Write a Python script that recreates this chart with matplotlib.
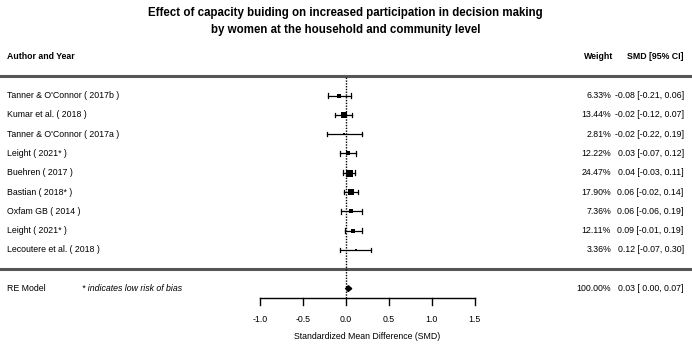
import matplotlib
matplotlib.use("Agg")
import matplotlib.pyplot as plt
from matplotlib.patches import Polygon
import numpy as np

studies = ["Tanner & O'Connor ( 2017b )", "Kumar et al. ( 2018 )", "Tanner & O'Connor ( 2017a )",
           "Leight ( 2021* )", "Buehren ( 2017 )", "Bastian ( 2018* )", "Oxfam GB ( 2014 )",
           "Leight ( 2021* )", "Lecoutere et al. ( 2018 )"]
smd = [-0.08, -0.02, -0.02, 0.03, 0.04, 0.06, 0.06, 0.09, 0.12]
ci_low = [-0.21, -0.12, -0.22, -0.07, -0.03, -0.02, -0.06, -0.01, -0.07]
ci_high = [0.06, 0.07, 0.19, 0.12, 0.11, 0.14, 0.19, 0.19, 0.30]
weights = [6.33, 13.44, 2.81, 12.22, 24.47, 17.90, 7.36, 12.11, 3.36]
re_est, re_low, re_high = 0.03, 0.00, 0.07
xticks = [-1.0, -0.5, 0.0, 0.5, 1.0, 1.5]

plt.rcParams['font.family'] = ['Liberation Sans', 'DejaVu Sans']

fig = plt.figure(figsize=(6.92, 3.44), dpi=100)
ax = fig.add_axes([0, 0, 1, 1])
ax.set_xlim(-4.020, 4.027)
ax.set_ylim(-3.87, 13.95)
ax.axis('off')

k = len(studies)
rows = np.arange(k, 0, -1)

fs = 6.3
xl, xw, xs = -3.94, 3.085, 3.93

# title
ax.text(0.0, 13.3, "Effect of capacity buiding on increased participation in decision making",
        ha='center', va='center', fontsize=8.3, fontweight='bold')
ax.text(0.0, 12.42, "by women at the household and community level",
        ha='center', va='center', fontsize=8.3, fontweight='bold')

# headers
ax.text(xl, 11, "Author and Year", ha='left', va='center', fontsize=fs, fontweight='bold')
ax.text(xw + 0.03, 11, "Weight", ha='right', va='center', fontsize=fs, fontweight='bold')
ax.text(xs, 11, "SMD [95% CI]", ha='right', va='center', fontsize=fs, fontweight='bold')

# separators
ax.axhline(10, color='#555555', lw=2.2)
ax.axhline(0, color='#555555', lw=2.2)

# reference line
ax.plot([0, 0], [-1.5, 10], color='black', lw=1, ls=(0, (1, 1)))

for y, name, e, lo, hi, w in zip(rows, studies, smd, ci_low, ci_high, weights):
    ax.plot([lo, hi], [y, y], color='black', lw=0.9)
    ax.plot([lo, lo], [y - 0.12, y + 0.12], color='black', lw=0.9)
    ax.plot([hi, hi], [y - 0.12, y + 0.12], color='black', lw=0.9)
    size_px = 7.0 * np.sqrt(w / max(weights))
    ax.plot([e], [y], marker='s', color='black', ms=size_px * 0.72, mew=0)
    ax.text(xl, y, name, ha='left', va='center', fontsize=fs)
    ax.text(xw, y, f"{w:.2f}%", ha='right', va='center', fontsize=fs)
    ax.text(xs, y, f"{e:.2f} [{lo:.2f}, {hi:.2f}]", ha='right', va='center', fontsize=fs)

# RE model
ax.add_patch(Polygon([[re_low, -1], [re_est, -0.85], [re_high, -1], [re_est, -1.15]],
                     closed=True, color='black'))
ax.text(xl, -1, "RE Model", ha='left', va='center', fontsize=fs)
ax.text(-3.065, -1, "* indicates low risk of bias", ha='left', va='center', fontsize=fs, style='italic')
ax.text(xw, -1, f"{100:.2f}%", ha='right', va='center', fontsize=fs)
ax.text(xs, -1, f"{re_est:.2f} [ {re_low:.2f}, {re_high:.2f}]", ha='right', va='center', fontsize=fs)

# x axis
ax.plot([xticks[0], xticks[-1]], [-1.5, -1.5], color='black', lw=1)
for t in xticks:
    ax.plot([t, t], [-1.5, -1.86], color='black', lw=1)
    ax.text(t, -2.62, f"{t:.1f}", ha='center', va='center', fontsize=fs)
ax.text(0.25, -3.5, "Standardized Mean Difference (SMD)", ha='center', va='center', fontsize=fs)

fig.savefig("out.png", dpi=100)
